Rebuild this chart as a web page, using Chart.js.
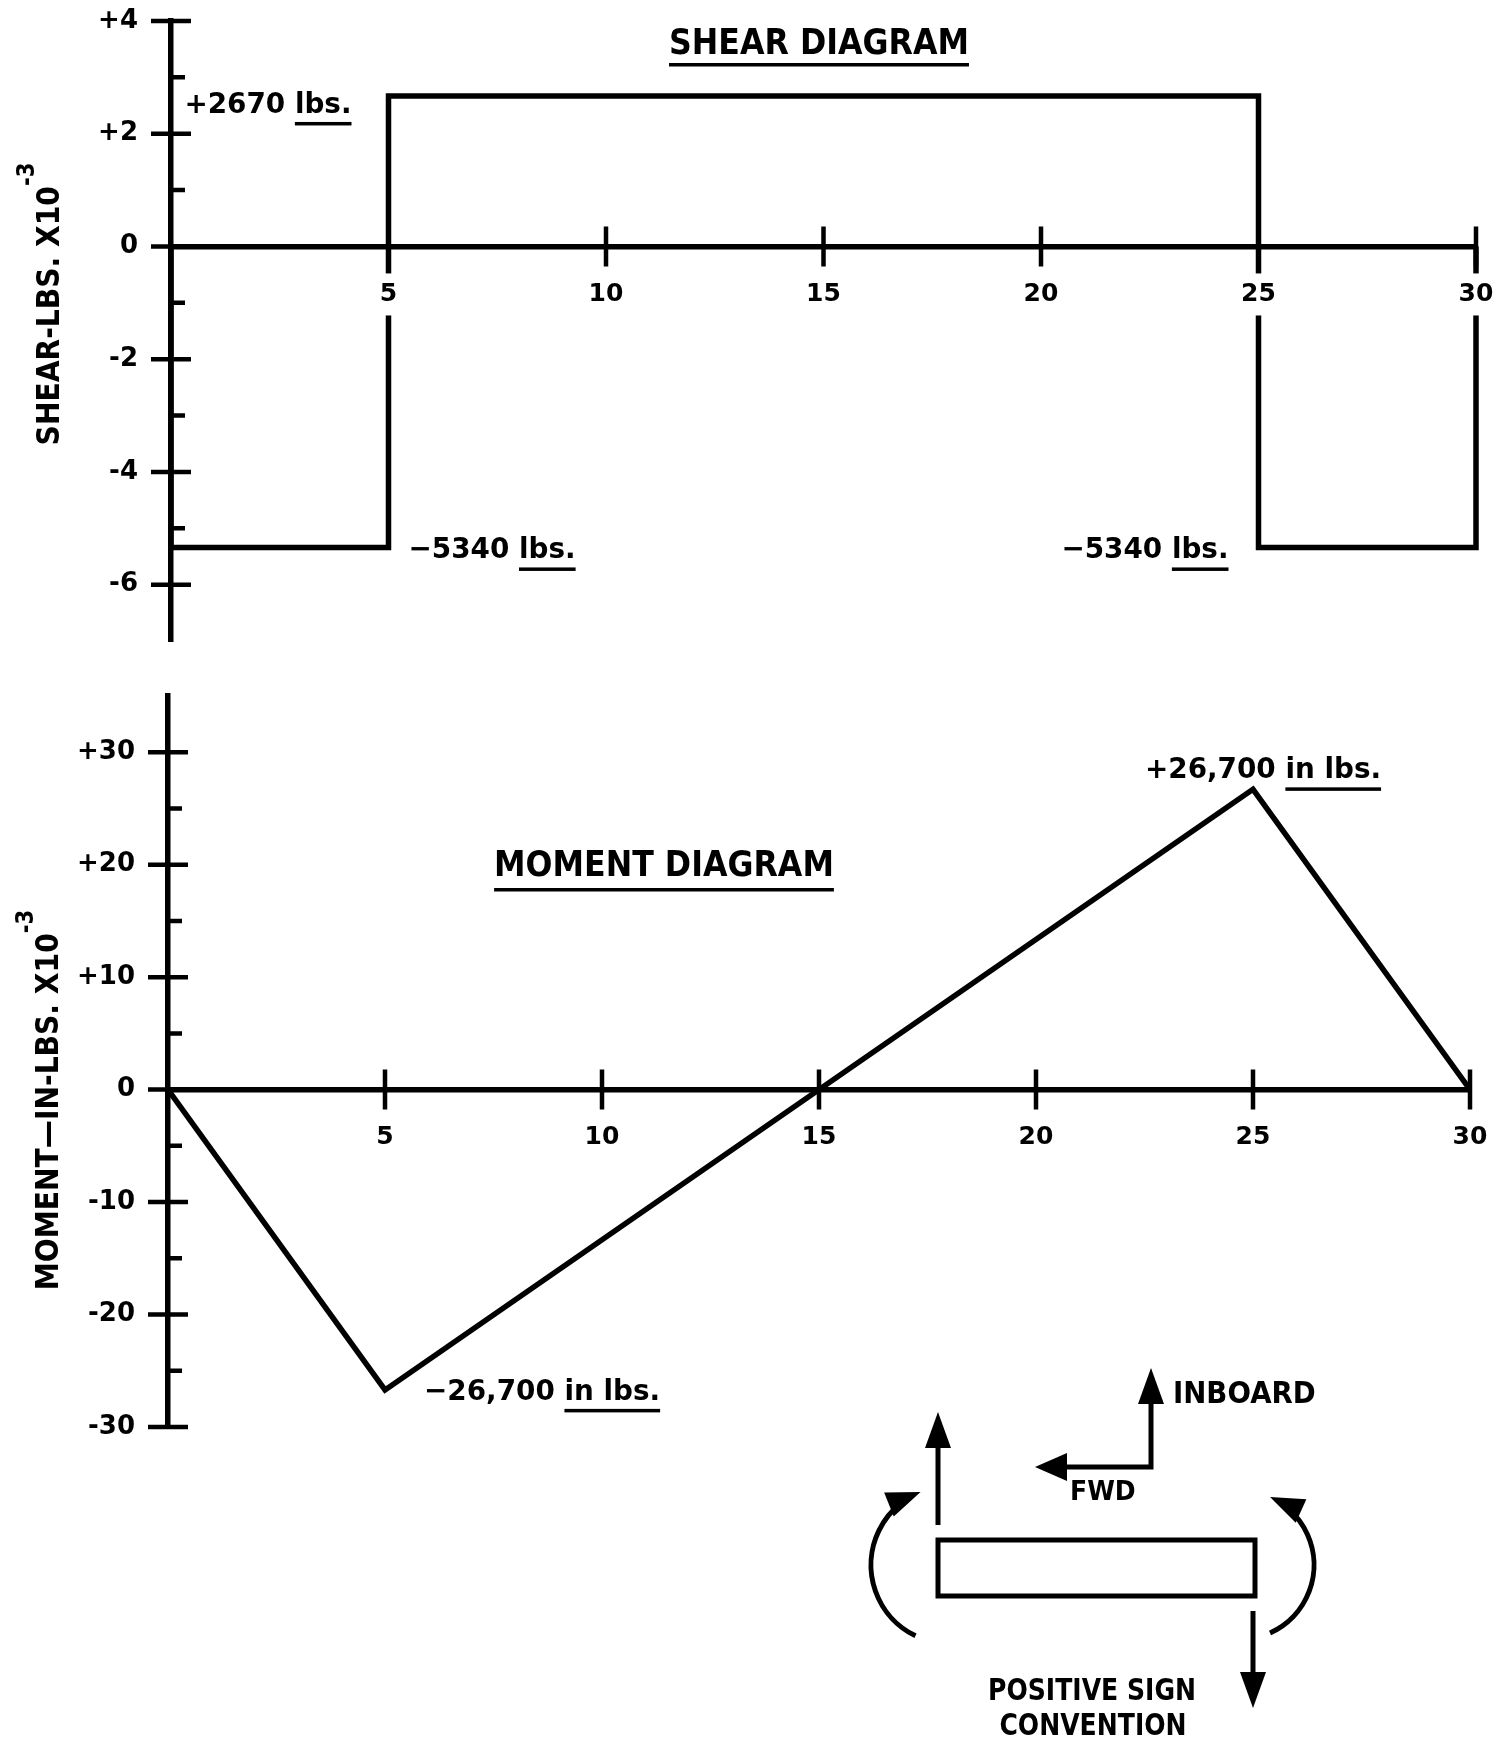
<!DOCTYPE html>
<html>
<head>
<meta charset="utf-8">
<title>Shear and moment diagram</title>
<script src="https://cdn.jsdelivr.net/npm/chart.js@4.4.0/dist/chart.umd.min.js"></script>
<style>
  html, body { margin: 0; padding: 0; background: #fff; }
  #wrap { position: relative; width: 1508px; height: 1747px; }
  canvas { position: absolute; left: 0; top: 0; }
</style>
</head>
<body>
<div id="wrap">
  <canvas id="shear" width="1508" height="1747"></canvas>
  <canvas id="moment" width="1508" height="1747"></canvas>
</div>
<script>
// stations along the span (x axis tick labels)
const stations = [0, 5, 10, 15, 20, 25, 30];

// shear, lbs x 10^-3
const shearX = [0, 0, 5, 5, 25, 25, 30, 30];
const shearV = [0, -5.34, -5.34, 2.67, 2.67, -5.34, -5.34, 0];
const shearTicks = [4, 2, 0, -2, -4, -6];
const shearMinor = [3, 1, -1, -3, -5];

// moment, in-lbs x 10^-3
const momentX = [0, 5, 25, 30];
const momentV = [0, -26.7, 26.7, 0];
const momentTicks = [30, 20, 10, 0, -10, -20, -30];
const momentMinor = [25, 15, 5, -5, -15, -25];

const FONT = '"DejaVu Sans", sans-serif';
Chart.defaults.font.family = FONT;
Chart.defaults.font.weight = 'bold';
Chart.defaults.color = '#000';

function measure(ctx, s, size, sx) {
  ctx.save();
  ctx.font = 'bold ' + size + 'px ' + FONT;
  const w = ctx.measureText(s).width * sx;
  ctx.restore();
  return w;
}

function text(ctx, s, x, y, size, sx) {
  ctx.save();
  ctx.font = 'bold ' + size + 'px ' + FONT;
  ctx.textBaseline = 'middle';
  ctx.textAlign = 'left';
  ctx.fillStyle = '#000';
  ctx.translate(x, y);
  ctx.scale(sx, 1);
  ctx.fillText(s, 0, 0);
  ctx.restore();
}

// parts: [[string, underlined], ...]
function note(ctx, parts, x, y, size, sx, align, ul) {
  const widths = parts.map(p => measure(ctx, p[0], size, sx));
  const total = widths.reduce((a, b) => a + b, 0);
  let cx = align === 'right' ? x - total : align === 'center' ? x - total / 2 : x;
  ctx.fillStyle = '#000';
  parts.forEach((p, i) => {
    text(ctx, p[0], cx, y, size, sx);
    if (p[1]) ctx.fillRect(cx, y + ul, widths[i], 3.5);
    cx += widths[i];
  });
}

function axisTitle(ctx, main, sup, cx, cy, size, sx) {
  const wm = measure(ctx, main, size, sx);
  const ws = measure(ctx, sup, size * 0.75, sx);
  const L = wm + ws;
  ctx.save();
  ctx.translate(cx, cy);
  ctx.rotate(-Math.PI / 2);
  text(ctx, main, -L / 2, 0, size, sx);
  text(ctx, sup, -L / 2 + wm, -size * 0.72, size * 0.75, sx);
  ctx.restore();
}

function drawTicks(chart, majors, minors) {
  const {ctx, scales: {x, y}} = chart;
  const ax = x.getPixelForValue(0), ay = y.getPixelForValue(0);
  ctx.save();
  ctx.strokeStyle = '#000';
  ctx.lineWidth = 4.5;
  ctx.beginPath();
  majors.forEach(v => { const p = y.getPixelForValue(v); ctx.moveTo(ax - 20, p); ctx.lineTo(ax + 20, p); });
  minors.forEach(v => { const p = y.getPixelForValue(v); ctx.moveTo(ax, p); ctx.lineTo(ax + 14, p); });
  stations.filter(v => v > 0).forEach(v => {
    const p = x.getPixelForValue(v);
    ctx.moveTo(p, ay - 20); ctx.lineTo(p, ay + 20);
  });
  ctx.stroke();
  ctx.restore();
}

function arrowHead(ctx, tx, ty, dx, dy, len, half) {
  const n = Math.hypot(dx, dy); dx /= n; dy /= n;
  const bx = tx - dx * len, by = ty - dy * len;
  ctx.beginPath();
  ctx.moveTo(tx, ty);
  ctx.lineTo(bx - dy * half, by + dx * half);
  ctx.lineTo(bx + dy * half, by - dx * half);
  ctx.closePath();
  ctx.fill();
}

function arrow(ctx, x1, y1, x2, y2) {
  const n = Math.hypot(x2 - x1, y2 - y1);
  const dx = (x2 - x1) / n, dy = (y2 - y1) / n;
  ctx.beginPath();
  ctx.moveTo(x1, y1);
  ctx.lineTo(x2 - dx * 20, y2 - dy * 20);
  ctx.stroke();
  arrowHead(ctx, x2, y2, dx, dy, 36, 13);
}

function curvedArrow(ctx, cx, cy, r, a0, a1, ccw) {
  const s = ccw ? -1 : 1;
  const tx = cx + r * Math.cos(a1), ty = cy + r * Math.sin(a1);
  ctx.beginPath();
  ctx.arc(cx, cy, r, a0, a1 - s * 22 / r, ccw);
  ctx.stroke();
  arrowHead(ctx, tx, ty, -Math.sin(a1) * s, Math.cos(a1) * s, 34, 13);
}

function signConvention(ctx) {
  const deg = Math.PI / 180;
  ctx.save();
  ctx.strokeStyle = '#000';
  ctx.fillStyle = '#000';
  ctx.lineWidth = 5;
  ctx.lineJoin = 'miter';
  ctx.strokeRect(938, 1540, 317, 56);
  arrow(ctx, 938, 1525, 938, 1412);
  arrow(ctx, 1253, 1611, 1253, 1708);
  // inboard / fwd axes
  ctx.beginPath();
  ctx.moveTo(1060, 1467);
  ctx.lineTo(1151, 1467);
  ctx.lineTo(1151, 1395);
  ctx.stroke();
  arrowHead(ctx, 1151, 1368, 0, -1, 36, 13);
  arrowHead(ctx, 1035, 1467, -1, 0, 32, 14);
  curvedArrow(ctx, 949.6, 1565, 78.6, 115.7 * deg, 248.3 * deg, false);
  curvedArrow(ctx, 1239.5, 1565, 74.5, 65.8 * deg, -65.8 * deg, true);
  ctx.restore();
  note(ctx, [['INBOARD', false]], 1173, 1395, 30, 0.92, 'left', 0);
  note(ctx, [['FWD', false]], 1070, 1493, 27, 0.93, 'left', 0);
  note(ctx, [['POSITIVE SIGN', false]], 1092, 1692, 31, 0.81, 'center', 0);
  note(ctx, [['CONVENTION', false]], 1093, 1727, 31, 0.81, 'center', 0);
}

const shearDecor = {
  id: 'shearDecor',
  afterDraw(chart) {
    const {ctx, scales: {x, y}} = chart;
    drawTicks(chart, shearTicks, shearMinor);
    note(ctx, [['SHEAR DIAGRAM', true]], 819, 45, 36, 0.88, 'center', 18);
    note(ctx, [['+2670 ', false], ['lbs.', true]], x.getPixelForValue(5) - 37, y.getPixelForValue(2.67) + 10, 29, 0.96, 'right', 16);
    note(ctx, [['\u22125340 ', false], ['lbs.', true]], x.getPixelForValue(5) + 20, y.getPixelForValue(-5.34) + 3, 29, 0.96, 'left', 17);
    note(ctx, [['\u22125340 ', false], ['lbs.', true]], x.getPixelForValue(25) - 30, y.getPixelForValue(-5.34) + 3, 29, 0.96, 'right', 17);
    axisTitle(ctx, 'SHEAR-LBS. X10', '-3', 51, 304, 32, 0.88);
  }
};

const momentDecor = {
  id: 'momentDecor',
  afterDraw(chart) {
    const {ctx, scales: {x, y}} = chart;
    drawTicks(chart, momentTicks, momentMinor);
    note(ctx, [['MOMENT DIAGRAM', true]], 664, 867, 36, 0.88, 'center', 21);
    note(ctx, [['+26,700 ', false], ['in lbs.', true]], x.getPixelForValue(25) + 10, y.getPixelForValue(26.7) - 19, 29, 0.96, 'center', 17);
    note(ctx, [['\u221226,700 ', false], ['in lbs.', true]], x.getPixelForValue(5) + 39, y.getPixelForValue(-26.7) + 3, 29, 0.96, 'left', 16);
    axisTitle(ctx, 'MOMENT\u2014IN-LBS. X10', '-3', 50, 1100, 32, 0.88);
    signConvention(ctx);
  }
};

function signed(v) { return v > 0 ? '+' + v : String(v); }

function noPad(s) {
  s.paddingTop = 0; s.paddingBottom = 0; s.paddingLeft = 0; s.paddingRight = 0;
}

function makeChart(id, xs, vs, ticks, yMin, yMax, axisX, pad, backdrop, plugin) {
  return new Chart(document.getElementById(id), {
    type: 'line',
    data: {
      datasets: [{
        data: xs.map((x, i) => ({x: x, y: vs[i]})),
        borderColor: '#000',
        borderWidth: 5.5,
        borderJoinStyle: 'miter',
        pointRadius: 0,
        tension: 0,
        fill: false,
        clip: false
      }]
    },
    options: {
      responsive: false,
      animation: false,
      events: [],
      layout: {padding: pad},
      plugins: {legend: {display: false}, tooltip: {enabled: false}},
      scales: {
        x: {
          type: 'linear',
          min: 0,
          max: 30,
          position: {y: 0},
          afterBuildTicks: s => { s.ticks = stations.filter(v => v > 0).map(v => ({value: v})); },
          afterFit: s => { s.height = 0; noPad(s); },
          grid: {display: false, drawTicks: false},
          border: {display: true, color: '#000', width: 5.5},
          ticks: {
            z: 1,
            color: '#000',
            font: {size: 25, weight: 'bold'},
            padding: 33,
            maxRotation: 0,
            autoSkip: false,
            callback: v => String(v),
            showLabelBackdrop: backdrop,
            backdropColor: '#fff',
            backdropPadding: {top: 6, bottom: 6, left: 4, right: 4}
          }
        },
        y: {
          type: 'linear',
          min: yMin,
          max: yMax,
          afterBuildTicks: s => { s.ticks = ticks.map(v => ({value: v})); },
          afterFit: s => { s.width = axisX; noPad(s); },
          grid: {display: false, drawTicks: false},
          border: {display: true, color: '#000', width: 5.5},
          ticks: {
            color: '#000',
            font: {size: 26, weight: 'bold'},
            padding: 33,
            autoSkip: false,
            callback: v => signed(v)
          }
        }
      }
    },
    plugins: [plugin]
  });
}

makeChart('shear', shearX, shearV, shearTicks, -7, 4, 171,
  {left: 0, top: 21, right: 32, bottom: 1106}, true, shearDecor);
makeChart('moment', momentX, momentV, momentTicks, -30, 35, 168,
  {left: 0, top: 696, right: 38, bottom: 320}, false, momentDecor);
</script>
</body>
</html>
